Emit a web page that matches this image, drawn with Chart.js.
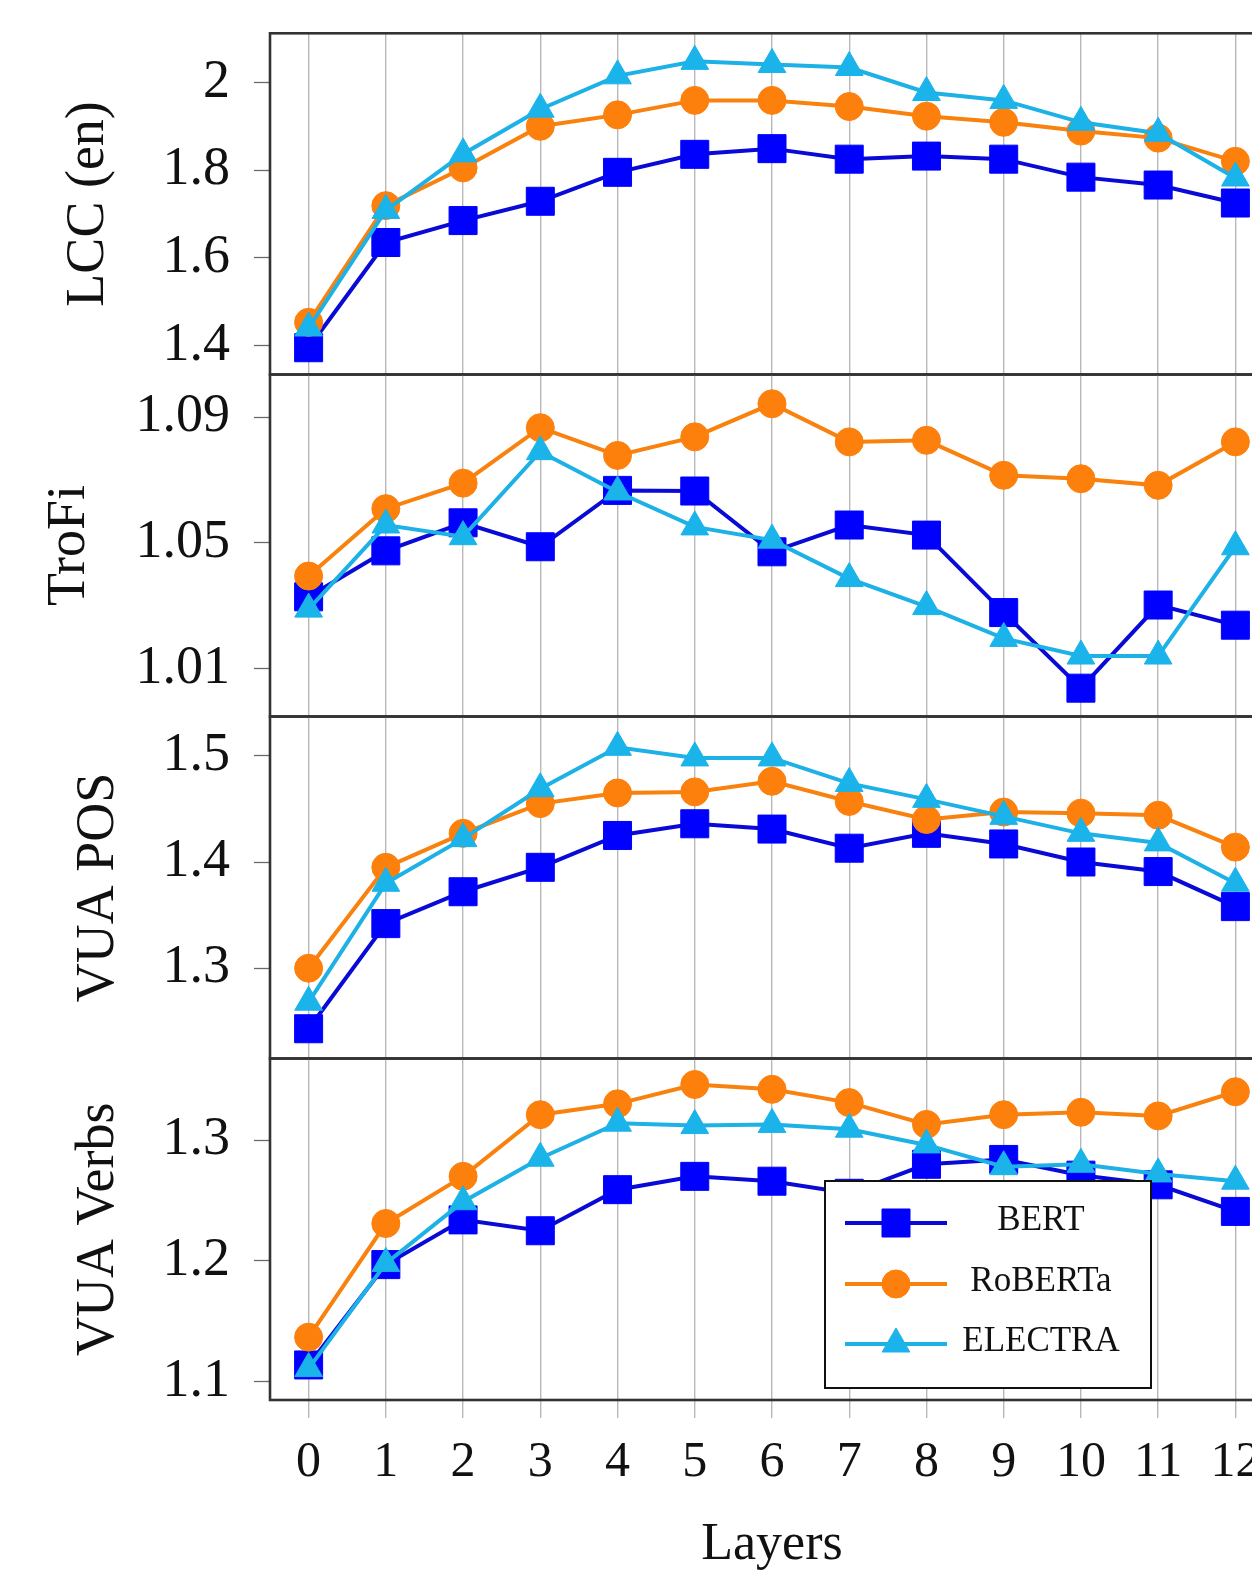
<!DOCTYPE html>
<html>
<head>
<meta charset="utf-8">
<script src="https://cdn.jsdelivr.net/npm/chart.js@4.4.1/dist/chart.umd.min.js"></script>
<style>
html, body { margin: 0; padding: 0; background: #fff; }
#wrap { position: relative; width: 1252px; height: 1570px; overflow: hidden; background: #fff; }
#wrap canvas { position: absolute; left: 0; }
</style>
</head>
<body>
<div id="wrap"></div>
<script>
// ---------------- data ----------------
const layers = ['0', '1', '2', '3', '4', '5', '6', '7', '8', '9', '10', '11', '12'];
const seriesNames = ['BERT', 'RoBERTa', 'ELECTRA'];
const panelTitles = ['LCC (en)', 'TroFi', 'VUA POS', 'VUA Verbs'];
const xTitle = 'Layers';

const lccBert    = [1.395, 1.635, 1.685, 1.729, 1.795, 1.836, 1.849, 1.825, 1.832, 1.825, 1.784, 1.766, 1.725];
const lccRoberta = [1.453, 1.719, 1.805, 1.900, 1.926, 1.959, 1.959, 1.945, 1.923, 1.909, 1.889, 1.873, 1.820];
const lccElectra = [1.440, 1.708, 1.837, 1.939, 2.015, 2.048, 2.041, 2.034, 1.977, 1.959, 1.909, 1.884, 1.782];

const trofiBert    = [1.0329, 1.0475, 1.0564, 1.0488, 1.0667, 1.0665, 1.0472, 1.0557, 1.0525, 1.0279, 1.0039, 1.0303, 1.0239];
const trofiRoberta = [1.0395, 1.0609, 1.0690, 1.0866, 1.0778, 1.0837, 1.0942, 1.0821, 1.0826, 1.0715, 1.0704, 1.0683, 1.0821];
const trofiElectra = [1.0290, 1.0557, 1.0520, 1.0790, 1.0662, 1.0551, 1.0509, 1.0387, 1.0298, 1.0197, 1.0141, 1.0141, 1.0488];

const posBert    = [1.243, 1.342, 1.372, 1.395, 1.425, 1.436, 1.431, 1.413, 1.427, 1.417, 1.400, 1.391, 1.358];
const posRoberta = [1.300, 1.395, 1.427, 1.455, 1.465, 1.466, 1.476, 1.457, 1.440, 1.447, 1.446, 1.444, 1.414];
const posElectra = [1.268, 1.380, 1.422, 1.469, 1.508, 1.498, 1.498, 1.474, 1.459, 1.443, 1.427, 1.418, 1.380];

const verbsBert    = [1.114, 1.197, 1.234, 1.225, 1.259, 1.270, 1.266, 1.256, 1.280, 1.284, 1.271, 1.263, 1.241];
const verbsRoberta = [1.137, 1.231, 1.270, 1.321, 1.330, 1.346, 1.342, 1.331, 1.313, 1.321, 1.323, 1.320, 1.340];
const verbsElectra = [1.111, 1.198, 1.249, 1.285, 1.314, 1.312, 1.313, 1.309, 1.296, 1.278, 1.280, 1.272, 1.266];

const lccTicks   = [1.4, 1.6, 1.8, 2];
const trofiTicks = [1.01, 1.05, 1.09];
const posTicks   = [1.3, 1.4, 1.5];
const verbsTicks = [1.1, 1.2, 1.3];

const lccRange   = [1.334, 2.112];
const trofiRange = [0.9949, 1.1035];
const posRange   = [1.215, 1.537];
const verbsRange = [1.085, 1.3675];

// ---------------- styles / layout ----------------
const FONT = "'Liberation Serif', 'Times New Roman', Times, serif";
const W = 1300;
const PLOT_LEFT = 270;
const PLOT_RIGHT = 1274;
const lineColors   = ['#0a0ad6', '#f9810e', '#1db1e6'];
const markerColors = ['#0000ff', '#fd7f0c', '#1ab3ea'];
const markerStyles = ['rect', 'circle', 'triangle'];
const markerRadii  = [19.8, 14, 16];
const drawOrder    = [3, 2, 1];

const panels = [
  { title: panelTitles[0], ticks: lccTicks,   range: lccRange,   data: [lccBert, lccRoberta, lccElectra],       top: 33.3,   bottom: 374.5, titleCenter: 88.5 },
  { title: panelTitles[1], ticks: trofiTicks, range: trofiRange, data: [trofiBert, trofiRoberta, trofiElectra], top: 374.5,  bottom: 716.5, titleCenter: 69.5 },
  { title: panelTitles[2], ticks: posTicks,   range: posRange,   data: [posBert, posRoberta, posElectra],       top: 716.5,  bottom: 1058.5, titleCenter: 99 },
  { title: panelTitles[3], ticks: verbsTicks, range: verbsRange, data: [verbsBert, verbsRoberta, verbsElectra], top: 1058.5, bottom: 1400, titleCenter: 99 }
];

const framePlugin = {
  id: 'frame',
  afterDraw(chart) {
    const { ctx, chartArea: a } = chart;
    ctx.save();
    ctx.strokeStyle = '#333';
    ctx.lineWidth = 2.6;
    ctx.strokeRect(a.left, a.top, a.right - a.left, a.bottom - a.top);
    ctx.restore();
  }
};

function drawMarker(ctx, style, r, x, y) {
  ctx.beginPath();
  if (style === 'rect') {
    const s = Math.SQRT1_2 * r;
    ctx.rect(x - s, y - s, 2 * s, 2 * s);
  } else if (style === 'circle') {
    ctx.arc(x, y, r, 0, Math.PI * 2);
  } else {
    ctx.moveTo(x, y - r);
    ctx.lineTo(x + r * Math.sin(2 * Math.PI / 3), y - r * Math.cos(2 * Math.PI / 3));
    ctx.lineTo(x + r * Math.sin(4 * Math.PI / 3), y - r * Math.cos(4 * Math.PI / 3));
    ctx.closePath();
  }
  ctx.fill();
  ctx.stroke();
}

function makeLegendPlugin(canvasTop) {
  const box = { x1: 825, x2: 1151, y1: 1181, y2: 1388 };
  const rows = [1223, 1284, 1344];
  return {
    id: 'boxLegend',
    afterDraw(chart) {
      const ctx = chart.ctx;
      ctx.save();
      ctx.fillStyle = '#fff';
      ctx.fillRect(box.x1, box.y1 - canvasTop, box.x2 - box.x1, box.y2 - box.y1);
      ctx.strokeStyle = '#111';
      ctx.lineWidth = 2;
      ctx.strokeRect(box.x1, box.y1 - canvasTop, box.x2 - box.x1, box.y2 - box.y1);
      chart.data.datasets.forEach((ds, i) => {
        const y = rows[i] - canvasTop;
        ctx.strokeStyle = ds.borderColor;
        ctx.lineWidth = ds.borderWidth;
        ctx.beginPath();
        ctx.moveTo(845, y);
        ctx.lineTo(947, y);
        ctx.stroke();
        ctx.fillStyle = ds.pointBackgroundColor;
        ctx.strokeStyle = ds.pointBorderColor;
        ctx.lineWidth = ds.pointBorderWidth;
        drawMarker(ctx, ds.pointStyle, ds.pointRadius, 896, y);
        ctx.fillStyle = '#111';
        ctx.font = '35px ' + FONT;
        ctx.textAlign = 'center';
        ctx.textBaseline = 'middle';
        ctx.fillText(ds.label, 1041, y - 2.5);
      });
      ctx.restore();
    }
  };
}

const wrap = document.getElementById('wrap');

panels.forEach((p, idx) => {
  const isLast = idx === panels.length - 1;
  const cTop = Math.max(0, Math.floor(p.top - 60));
  const cBottom = isLast ? 1620 : Math.ceil(p.bottom + 60);
  const cH = cBottom - cTop;
  const canvas = document.createElement('canvas');
  canvas.width = W;
  canvas.height = cH;
  canvas.style.top = cTop + 'px';
  canvas.style.width = W + 'px';
  canvas.style.height = cH + 'px';
  wrap.appendChild(canvas);

  const padTop = p.top - cTop;
  const padBottom = isLast ? 0 : cBottom - p.bottom;
  const xAxisH = isLast ? cBottom - p.bottom : 0;

  const datasets = seriesNames.map((name, i) => ({
    label: name,
    data: p.data[i],
    borderColor: lineColors[i],
    backgroundColor: markerColors[i],
    borderWidth: 4,
    pointStyle: markerStyles[i],
    pointRadius: markerRadii[i],
    pointHoverRadius: markerRadii[i],
    pointBackgroundColor: markerColors[i],
    pointBorderColor: markerColors[i],
    pointBorderWidth: 1,
    tension: 0,
    fill: false,
    order: drawOrder[i]
  }));

  const plugins = [framePlugin];
  if (isLast) plugins.push(makeLegendPlugin(cTop));

  new Chart(canvas, {
    type: 'line',
    data: { labels: layers, datasets },
    plugins,
    options: {
      responsive: false,
      animation: false,
      devicePixelRatio: 1,
      events: [],
      layout: { padding: { top: padTop, bottom: padBottom, left: 0, right: W - PLOT_RIGHT } },
      plugins: { legend: { display: false }, tooltip: { enabled: false } },
      scales: {
        x: {
          type: 'category',
          offset: true,
          grid: { display: true, color: '#b8b8b8', lineWidth: 1.4, drawOnChartArea: true, drawTicks: isLast, tickLength: 18, offset: false },
          border: { display: false },
          ticks: { display: isLast, padding: 14.5, color: '#111', autoSkip: false, maxRotation: 0, font: { family: FONT, size: 50, lineHeight: 1.2 } },
          title: { display: isLast, text: xTitle, color: '#111', font: { family: FONT, size: 52, lineHeight: 1.2 }, padding: { top: 0, bottom: 43.3 } },
          afterFit: s => { s.height = xAxisH; s.paddingLeft = 0; s.paddingRight = 0; }
        },
        y: {
          type: 'linear',
          min: p.range[0],
          max: p.range[1],
          afterBuildTicks: s => { s.ticks = p.ticks.map(v => ({ value: v })); },
          afterFit: s => { s.width = PLOT_LEFT; s.paddingTop = 0; s.paddingBottom = 0; },
          grid: { display: true, drawOnChartArea: false, drawTicks: true, tickLength: 16, color: '#6a6a6a', tickColor: '#6a6a6a', tickWidth: 1.3 },
          border: { display: false },
          ticks: { padding: 24, color: '#111', font: { family: FONT, size: 54, lineHeight: 1.2 }, callback: v => String(v) },
          title: { display: true, text: p.title, color: '#111', font: { family: FONT, size: 54, lineHeight: 1 }, padding: { top: p.titleCenter - 27, bottom: 0 } }
        }
      }
    }
  });
});
</script>
</body>
</html>
